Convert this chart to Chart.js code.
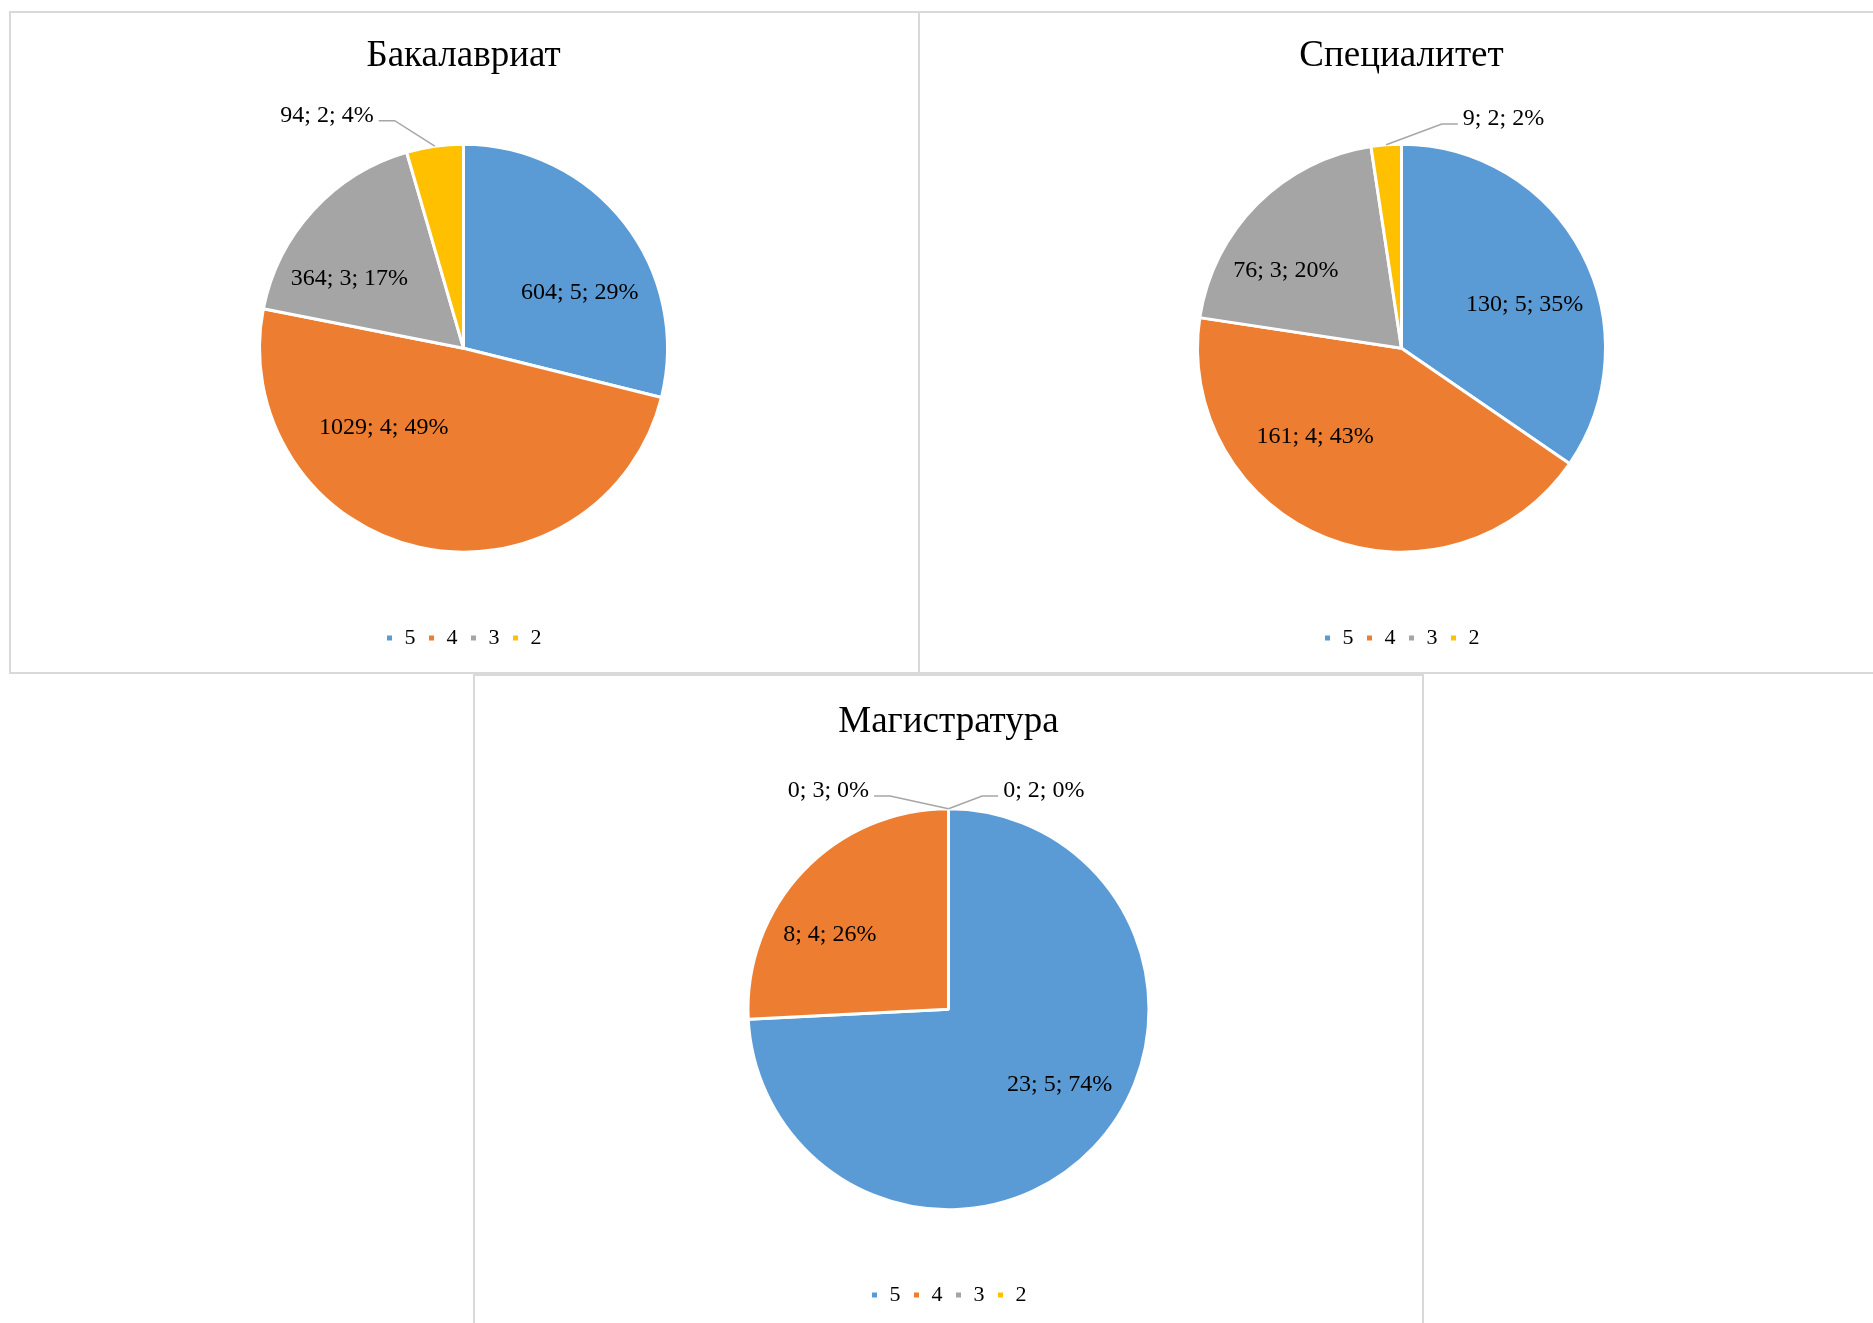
<!DOCTYPE html>
<html lang="ru">
<head>
<meta charset="utf-8">
<title>Успеваемость по уровням обучения</title>
<script src="https://cdn.jsdelivr.net/npm/chart.js@4.4.1/dist/chart.umd.min.js"></script>
<style>
  html, body { margin: 0; padding: 0; background: #fff; }
  body { width: 1873px; height: 1323px; overflow: hidden; position: relative; }
  .panel { position: absolute; box-sizing: border-box; border: 2px solid #d9d9d9; background: #fff; }
  canvas { position: absolute; }
</style>
</head>
<body>
<div class="panel" style="left:9px;top:11px;width:911px;height:663px"></div>
<div class="panel" style="left:918px;top:11px;width:980px;height:663px"></div>
<div class="panel" style="left:473px;top:674px;width:951px;height:700px"></div>
<canvas id="chartBachelor" width="905" height="659" style="left:11px;top:13px"></canvas>
<canvas id="chartSpecialist" width="963" height="659" style="left:920px;top:13px"></canvas>
<canvas id="chartMaster" width="947" height="647" style="left:475px;top:676px"></canvas>
<script>
// оценки (категории) и количество студентов по уровням
const GRADES = ['5', '4', '3', '2'];
const BACHELOR = [604, 1029, 364, 94];
const SPECIALIST = [130, 161, 76, 9];
const MASTER = [23, 8, 0, 0];

const COLORS = ['#5B9BD5', '#ED7D31', '#A5A5A5', '#FFC000'];
const FONT = "'Liberation Serif', 'Times New Roman', serif";

// где стоят подписи: [угол по часовой от 12 ч, доля радиуса]
const SPOTS_BACHELOR = [[63.6, 0.636], [225.6, 0.547], [302.1, 0.66], [329.8, 1.33]];
const SPOTS_SPECIALIST = [[69.9, 0.643], [224.9, 0.6], [304.5, 0.688], [23.8, 1.239]];
const SPOTS_MASTER = [[123.5, 0.665], [302.8, 0.704], [331.4, 1.251], [23.4, 1.197]];

const sliceLabels = {
  id: 'sliceLabels',
  afterDatasetsDraw(chart, args, opts) {
    const { ctx } = chart;
    const meta = chart.getDatasetMeta(0);
    const values = chart.data.datasets[0].data;
    const total = values.reduce((sum, v) => sum + v, 0);
    ctx.save();
    ctx.font = `${opts.size}px ${FONT}`;
    ctx.textAlign = 'center';
    ctx.textBaseline = 'alphabetic';
    meta.data.forEach((arc, i) => {
      const { x, y, startAngle, endAngle, outerRadius } =
        arc.getProps(['x', 'y', 'startAngle', 'endAngle', 'outerRadius'], true);
      const [deg, frac] = opts.spots[i];
      const a = (deg * Math.PI) / 180;
      const px = x + frac * outerRadius * Math.sin(a);
      const py = y - frac * outerRadius * Math.cos(a);
      const pct = total ? Math.round((values[i] / total) * 100) : 0;
      const text = `${values[i]}; ${chart.data.labels[i]}; ${pct}%`;
      const w = ctx.measureText(text).width;

      if (frac > 1) {
        // выноска для маленьких секторов
        const mid = (startAngle + endAngle) / 2;
        const ax = x + outerRadius * Math.cos(mid);
        const ay = y + outerRadius * Math.sin(mid);
        const side = px < x ? 1 : -1;
        const lx = px + side * (w / 2 + 5);
        const ly = py + 7;
        ctx.beginPath();
        ctx.moveTo(lx, ly);
        ctx.lineTo(lx + side * 16, ly);
        ctx.lineTo(ax, ay);
        ctx.strokeStyle = '#a6a6a6';
        ctx.lineWidth = 1.5;
        ctx.stroke();
      }
      ctx.fillStyle = '#000';
      ctx.fillText(text, px, py + opts.size * 0.34);
    });
    ctx.restore();
  },
};

function renderPie(canvasId, title, values, spots, radius, pad) {
  const canvas = document.getElementById(canvasId);
  if (!canvas) {
    return;
  }
  new Chart(canvas.getContext('2d'), {
    type: 'pie',
    data: {
      labels: GRADES,
      datasets: [
        {
          data: values,
          backgroundColor: COLORS,
          borderColor: '#ffffff',
          borderWidth: 3,
        },
      ],
    },
    options: {
      responsive: false,
      animation: false,
      radius,
      layout: { padding: { top: pad.top, bottom: pad.bottom } },
      plugins: {
        title: {
          display: true,
          text: title,
          color: '#000',
          font: { family: FONT, size: 37, weight: 'normal' },
          padding: { top: 10, bottom: pad.titleBottom },
        },
        legend: {
          position: 'bottom',
          labels: {
            color: '#000',
            font: { family: FONT, size: 22 },
            boxWidth: 8,
            boxHeight: 8,
            padding: 12,
          },
        },
        tooltip: { enabled: false },
        sliceLabels: { spots, size: 24 },
      },
    },
    plugins: [sliceLabels],
  });
}

renderPie('chartBachelor', 'Бакалавриат', BACHELOR, SPOTS_BACHELOR, 204, { top: 11, bottom: 13, titleBottom: 3 });
renderPie('chartSpecialist', 'Специалитет', SPECIALIST, SPOTS_SPECIALIST, 204, { top: 11, bottom: 13, titleBottom: 3 });
renderPie('chartMaster', 'Магистратура', MASTER, SPOTS_MASTER, 200.5, { top: 14, bottom: 7, titleBottom: 2 });
</script>
</body>
</html>
